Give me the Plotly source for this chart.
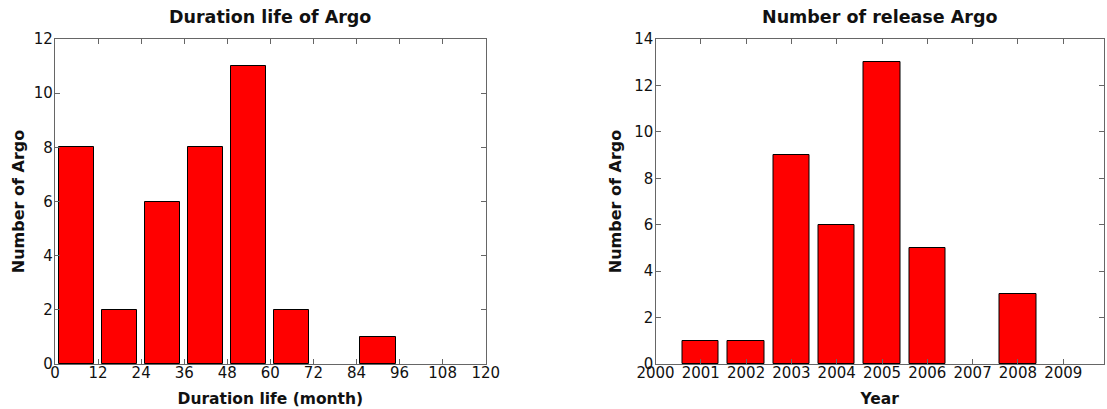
import plotly.graph_objects as go
from plotly.subplots import make_subplots

# Left: duration life histogram
dur_centers = [6, 18, 30, 42, 54, 66, 78, 90, 102, 114]
dur_counts = [8, 2, 6, 8, 11, 2, 0, 1, 0, 0]
dur_ticks = [0, 12, 24, 36, 48, 60, 72, 84, 96, 108, 120]

# Right: release year histogram
years = [2000, 2001, 2002, 2003, 2004, 2005, 2006, 2007, 2008, 2009]
year_counts = [0, 1, 1, 9, 6, 13, 5, 0, 3, 0]

W, H = 1107, 409
L, R, T, B = 55, 3, 39, 45
plot_w = W - L - R
left_dom = [0, (485.7 - L) / plot_w]
right_dom = [(655.5 - L) / plot_w, 1.0]

fig = make_subplots(rows=1, cols=2)


def bar_marker(counts):
    return dict(color="#FF0000",
                line=dict(color="#000000", width=[1 if c > 0 else 0 for c in counts]))


fig.add_trace(go.Bar(x=dur_centers, y=dur_counts, width=9.8, marker=bar_marker(dur_counts),
                     showlegend=False), row=1, col=1)
fig.add_trace(go.Bar(x=years, y=year_counts, width=0.8, marker=bar_marker(year_counts),
                     showlegend=False), row=1, col=2)

font_family = "DejaVu Sans, Verdana, sans-serif"
txt = "#111111"
axis_common = dict(showline=True, linecolor="#666666", linewidth=1.2, mirror="ticks",
                   ticks="inside", ticklen=5, tickcolor="#666666", showgrid=False,
                   zeroline=False, automargin=False,
                   tickfont=dict(family=font_family, size=15, color=txt))
xtitle_font = dict(family=font_family, size=15.5, color=txt)
ytitle_font = dict(family=font_family, size=16, color=txt)

fig.update_xaxes(domain=left_dom, range=[0, 120], tickvals=dur_ticks, **axis_common,
                 ticklabelstandoff=-5,
                 title=dict(text="<b>Duration life (month)</b>", font=xtitle_font, standoff=12),
                 row=1, col=1)
fig.update_yaxes(range=[0, 12], dtick=2, **axis_common, ticklabelstandoff=-2,
                 title=dict(text="<b>Number of Argo</b>", font=ytitle_font, standoff=5),
                 row=1, col=1)
fig.update_xaxes(domain=right_dom, range=[2000, 2009.9], tickvals=years, **axis_common,
                 ticklabelstandoff=-5,
                 title=dict(text="<b>Year</b>", font=xtitle_font, standoff=12),
                 row=1, col=2)
fig.update_yaxes(range=[0, 14], dtick=2, **axis_common, ticklabelstandoff=-2,
                 title=dict(text="<b>Number of Argo</b>", font=ytitle_font, standoff=8),
                 row=1, col=2)

for ax, label in (("x", "Duration life of Argo"), ("x2", "Number of release Argo")):
    yref = "y domain" if ax == "x" else "y2 domain"
    fig.add_annotation(text=f"<b>{label}</b>", xref=f"{ax} domain", yref=yref, x=0.5, y=1,
                       xanchor="center", yanchor="bottom", yshift=10, showarrow=False,
                       font=dict(family=font_family, size=17.5, color=txt))

fig.update_layout(width=W, height=H, margin=dict(l=L, r=R, t=T, b=B),
                  plot_bgcolor="white", paper_bgcolor="white", bargap=0)

fig.write_html("out.html")
